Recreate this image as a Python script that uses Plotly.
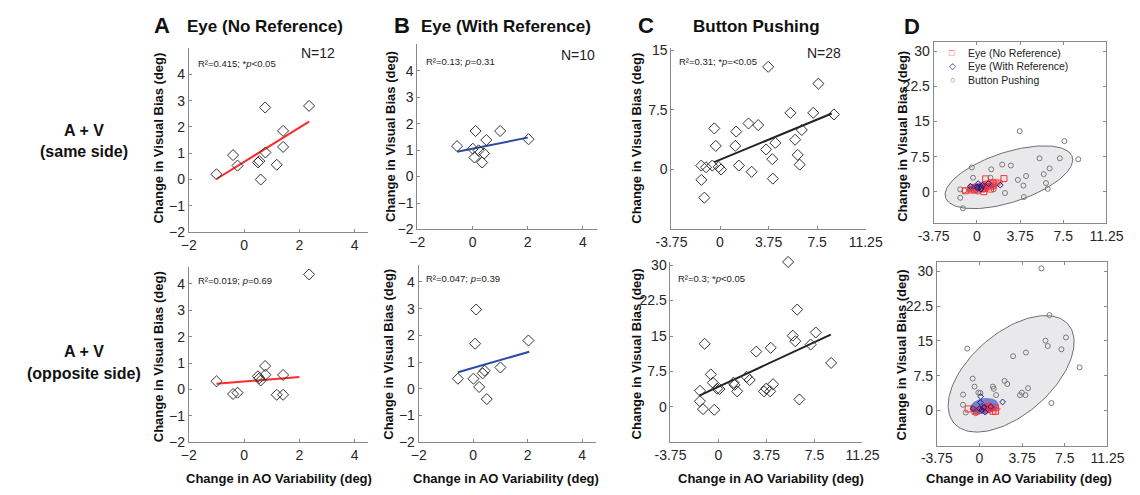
import numpy as np
import plotly.graph_objects as go

W, H = 1140, 495
FONT = "Liberation Sans, Arial, Helvetica, sans-serif"

# ---- data -------------------------------------------------------------
# Eye (No Reference): change in AO variability and change in visual bias
eye_noref_ao = [-1.0, -0.4, -0.24, 0.5, 0.55, 0.6, 0.76, 0.77, 1.18, 1.41, 1.41, 2.35]
eye_noref_same = [0.2, 0.93, 0.53, 0.65, 0.7, 0.0, 2.74, 1.03, 0.56, 1.85, 1.24, 2.8]
eye_noref_opp = [0.31, -0.17, -0.12, 0.5, 0.43, 0.34, 0.89, 0.56, -0.2, -0.2, 0.55, 4.36]
eye_noref_opp_keep = [True] * 11 + [False]   # outlier left out of the summary panel

# Eye (With Reference)
eye_ref_ao = [-0.56, 0.01, 0.07, 0.11, 0.22, 0.35, 0.42, 0.5, 1.0, 2.03]
eye_ref_same = [1.15, 1.05, 0.72, 1.72, 0.99, 0.53, 0.87, 1.38, 1.72, 1.41]
eye_ref_opp = [0.38, 0.38, 1.69, 2.97, 0.07, 0.58, 0.68, -0.38, 0.8, 1.81]

# Button Pushing
button_ao = [-1.45, -1.44, -1.21, -1.08, -0.6, -0.44, -0.33, -0.1, 0.08, 1.18,
             1.25, 1.46, 2.2, 2.44, 2.95, 3.56, 3.72, 4.04, 4.08, 4.27,
             5.44, 5.8, 6.0, 6.15, 6.32, 7.2, 7.6, 8.8]
button_same = [0.49, -1.31, -3.55, 0.28, 0.49, 5.18, 2.98, 0.32, 0.0, 2.98,
               4.78, 0.49, 5.8, -0.29, 5.6, 2.52, 12.94, 1.30, -1.15, 3.35,
               7.14, 3.75, 1.84, 0.61, 4.98, 7.14, 10.82, 6.94]
button_opp = [1.2, 3.4, -0.47, 13.35, 6.86, 5.13, -0.62, 3.84, 3.77, 5.13,
              4.66, 3.29, 6.37, 5.69, 11.7, 3.29, 3.84, 3.29, 12.5, 4.8,
              30.68, 15.07, 13.9, 20.6, 1.58, 13.2, 15.75, 9.3]

# regression lines (end points)
fit_noref_same = ([-1.0, 2.35], [0.02, 2.2])
fit_noref_opp = ([-1.0, 2.0], [0.22, 0.47])
fit_ref_same = ([-0.56, 2.0], [0.94, 1.47])
fit_ref_opp = ([-0.56, 2.06], [0.62, 1.39])
fit_button_same = ([-0.45, 8.63], [0.93, 7.06])
fit_button_opp = ([-1.5, 8.77], [2.4, 15.28])

stats_text = {
    "A_top": "R²=0.415; *<i>p</i>&lt;0.05",
    "B_top": "R²=0.13; <i>p</i>=0.31",
    "C_top": "R²=0.31; *<i>p</i>=&lt;0.05",
    "A_bot": "R²=0.019; <i>p</i>=0.69",
    "B_bot": "R²=0.047; <i>p</i>=0.39",
    "C_bot": "R²=0.3; *<i>p</i>&lt;0.05",
}
n_text = {"A": "N=12", "B": "N=10", "C": "N=28"}

eye_ticks = [-2, 0, 2, 4]
bias_ticks_small = [-2, -1, 0, 1, 2, 3, 4]
ao_ticks = [-3.75, 0, 3.75, 7.5, 11.25]
ao_ticktext = ["-3.75", "0", "3.75", "7.5", "11.25"]

RED = "#ff2a2a"
BLUE = "#2b4aa8"
DARK = "#222222"


def conf_ellipse(x, y, k=1.794, n=160):
    """Covariance ellipse (k standard deviations) around the mean of x, y."""
    x = np.asarray(x, float)
    y = np.asarray(y, float)
    vals, vecs = np.linalg.eigh(np.cov(x, y))
    t = np.linspace(0, 2 * np.pi, n)
    circ = np.vstack([np.cos(t), np.sin(t)])
    pts = vecs @ (np.sqrt(np.maximum(vals, 0))[:, None] * circ) * k
    return x.mean() + pts[0], y.mean() + pts[1]


def px_x(a, b):
    return [a / W, b / W]


def px_y(top, bottom):
    return [1 - bottom / H, 1 - top / H]


fig = go.Figure()

# panel geometry: (x-left, x-right, y-top, y-bottom) in pixels
geom = {
    1: (178, 363, 43.3, 232.7),    # A top
    2: (413.3, 598, 39.3, 230),    # B top
    3: (675, 875, 43.3, 229.5),    # C top
    4: (945, 1123, 36.7, 223.3),   # D top
    5: (178, 363, 268.3, 449),     # A bottom
    6: (414.7, 597, 266.7, 449),   # B bottom
    7: (674, 871.7, 263.3, 449),   # C bottom
    8: (948.3, 1124, 263.3, 452.3),  # D bottom
}
yranges = {1: [-2, 5], 2: [-2, 5], 3: [-7.5, 15.3], 4: [-6.7, 32.1],
           5: [-2, 4.65], 6: [-2, 4.63], 7: [-7.5, 30.7], 8: [-7.6, 32.1]}


def ax_names(i):
    return ("x" if i == 1 else f"x{i}"), ("y" if i == 1 else f"y{i}")


tickfont = dict(family=FONT, size=14, color="#262626")
for i, (xl, xr, yt, yb) in geom.items():
    xa = dict(domain=px_x(xl, xr), anchor=ax_names(i)[1], showgrid=False, zeroline=False,
              showline=True, linecolor="#8a8a8a", linewidth=1, ticks="inside", ticklen=3,
              tickcolor="#8a8a8a", tickfont=tickfont, fixedrange=True)
    ya = dict(domain=px_y(yt, yb), anchor=ax_names(i)[0], showgrid=False, zeroline=False,
              showline=True, linecolor="#8a8a8a", linewidth=1, ticks="inside", ticklen=3,
              tickcolor="#8a8a8a", tickfont=tickfont, range=yranges[i], fixedrange=True)
    if i in (1, 2, 5, 6):
        xa.update(range=[-2, 4.5], tickvals=eye_ticks)
        ya.update(tickvals=bias_ticks_small)
    else:
        xa.update(range=[-3.75, 11.25], tickvals=ao_ticks, ticktext=ao_ticktext)
        if i == 3:
            ya.update(tickvals=[0, 7.5, 15], ticktext=["0", "7.5", "15"])
        else:
            ya.update(tickvals=[0, 7.5, 15, 22.5, 30],
                      ticktext=["0", "7.5", "15", "22.5", "30"])
    if i in (4, 8):
        xa.update(mirror="ticks")
        ya.update(mirror="ticks")
    key = "" if i == 1 else str(i)
    fig.layout["xaxis" + key] = xa
    fig.layout["yaxis" + key] = ya


def scatter_panel(i, x, y, fit, color):
    xr, yr = ax_names(i)
    fig.add_trace(go.Scatter(x=fit[0], y=fit[1], mode="lines", xaxis=xr, yaxis=yr,
                             line=dict(color=color, width=2), showlegend=False,
                             hoverinfo="skip"))
    fig.add_trace(go.Scatter(x=x, y=y, mode="markers", xaxis=xr, yaxis=yr,
                             cliponaxis=False,
                             marker=dict(symbol="diamond-open", size=8.5,
                                         color="#333333", line=dict(width=1)),
                             showlegend=False))


scatter_panel(1, eye_noref_ao, eye_noref_same, fit_noref_same, RED)
scatter_panel(2, eye_ref_ao, eye_ref_same, fit_ref_same, BLUE)
scatter_panel(3, button_ao, button_same, fit_button_same, DARK)
scatter_panel(5, eye_noref_ao, eye_noref_opp, fit_noref_opp, RED)
scatter_panel(6, eye_ref_ao, eye_ref_opp, fit_ref_opp, BLUE)
scatter_panel(7, button_ao, button_opp, fit_button_opp, DARK)


def summary_panel(i, noref_y, ref_y, button_y, noref_keep=None):
    xr, yr = ax_names(i)
    nx = np.asarray(eye_noref_ao, float)
    ny = np.asarray(noref_y, float)
    if noref_keep is not None:
        m = np.asarray(noref_keep)
        nx, ny = nx[m], ny[m]
    ex, ey = conf_ellipse(button_ao, button_y)
    fig.add_trace(go.Scatter(x=ex, y=ey, mode="lines", fill="toself", xaxis=xr, yaxis=yr,
                             fillcolor="#e9e9eb", line=dict(color="#6e6e6e", width=1),
                             showlegend=False, hoverinfo="skip"))
    fig.add_trace(go.Scatter(x=button_ao, y=button_y, mode="markers", xaxis=xr, yaxis=yr,
                             cliponaxis=False,
                             marker=dict(symbol="circle-open", size=5, color="#7a7a7a",
                                         line=dict(width=1)), showlegend=False))
    ex, ey = conf_ellipse(nx, ny)
    fig.add_trace(go.Scatter(x=ex, y=ey, mode="lines", fill="toself", xaxis=xr, yaxis=yr,
                             fillcolor="rgba(255,40,40,0.55)", line=dict(width=0),
                             showlegend=False, hoverinfo="skip"))
    ex, ey = conf_ellipse(eye_ref_ao, ref_y)
    fig.add_trace(go.Scatter(x=ex, y=ey, mode="lines", fill="toself", xaxis=xr, yaxis=yr,
                             fillcolor="rgba(40,60,190,0.6)", line=dict(width=0),
                             showlegend=False, hoverinfo="skip"))
    fig.add_trace(go.Scatter(x=nx, y=ny, mode="markers", xaxis=xr, yaxis=yr,
                             marker=dict(symbol="square-open", size=6, color="#ff3030",
                                         line=dict(width=1)), showlegend=False))
    fig.add_trace(go.Scatter(x=eye_ref_ao, y=ref_y, mode="markers", xaxis=xr, yaxis=yr,
                             marker=dict(symbol="diamond-open", size=4.5, color="#20208a",
                                         line=dict(width=1)), showlegend=False))


summary_panel(4, eye_noref_same, eye_ref_same, button_same)
summary_panel(8, eye_noref_opp, eye_ref_opp, button_opp, eye_noref_opp_keep)

ann = []


def text(x, y, s, size, bold=False, xanchor="center", yanchor="middle", angle=0,
         color="#111111"):
    ann.append(dict(x=x / W, y=1 - y / H, xref="paper", yref="paper", text=s,
                    showarrow=False, xanchor=xanchor, yanchor=yanchor, textangle=angle,
                    font=dict(family=FONT, size=size, color=color,
                              weight="bold" if bold else "normal")))


# panel letters and titles
text(150, 20, "A", 22, True)
text(256, 21, "Eye (No Reference)", 17, True)
text(397, 20, "B", 22, True)
text(505, 21, "Eye (With Reference)", 17, True)
text(649, 20, "C", 22, True)
text(763, 21, "Button Pushing", 17, True)
text(923, 21, "D", 22, True)

# row labels
text(70, 128, "A + V", 16, True)
text(70, 150, "(same side)", 16, True)
text(70, 356, "A + V", 16, True)
text(70, 378, "(opposite side)", 16, True)

# axis titles
ytitle = "Change in Visual Bias (deg)"
xtitle = "Change in AO Variability (deg)"
for xc, yc in [(146.7, 136), (385, 134), (639, 136), (913, 134),
               (146.7, 361), (384, 358), (639, 358), (912, 359)]:
    text(xc, yc, ytitle, 13, True, angle=-90)
for xc in [271, 505, 778, 1033]:
    text(xc, 486, xtitle, 13, True)

# statistics and sample sizes
text(185, 59, stats_text["A_top"], 9.5, xanchor="left", color="#222222")
text(420, 57, stats_text["B_top"], 9.5, xanchor="left", color="#222222")
text(681, 57, stats_text["C_top"], 9.5, xanchor="left", color="#222222")
text(185, 282, stats_text["A_bot"], 9.5, xanchor="left", color="#222222")
text(420, 280, stats_text["B_bot"], 9.5, xanchor="left", color="#222222")
text(680, 280, stats_text["C_bot"], 9.5, xanchor="left", color="#222222")
text(311, 48, n_text["A"], 14, color="#222222")
text(579, 50, n_text["B"], 14, color="#222222")
text(832, 48, n_text["C"], 14, color="#222222")

# legend of the summary panel
legend_rows = [("□", "#ff3030", "Eye (No Reference)"),
               ("◇", "#20208a", "Eye (With Reference)"),
               ("○", "#7a7a7a", "Button Pushing")]
for k, (sym, col, label) in enumerate(legend_rows):
    yy = 48 + 14 * k
    text(964, yy, sym, 9, color=col)
    text(978, yy, label, 10.5, xanchor="left", color="#222222")

fig.update_layout(width=W, height=H, margin=dict(l=0, r=0, t=0, b=0),
                  paper_bgcolor="white", plot_bgcolor="white",
                  annotations=ann, showlegend=False)
fig.write_html("out.html")
